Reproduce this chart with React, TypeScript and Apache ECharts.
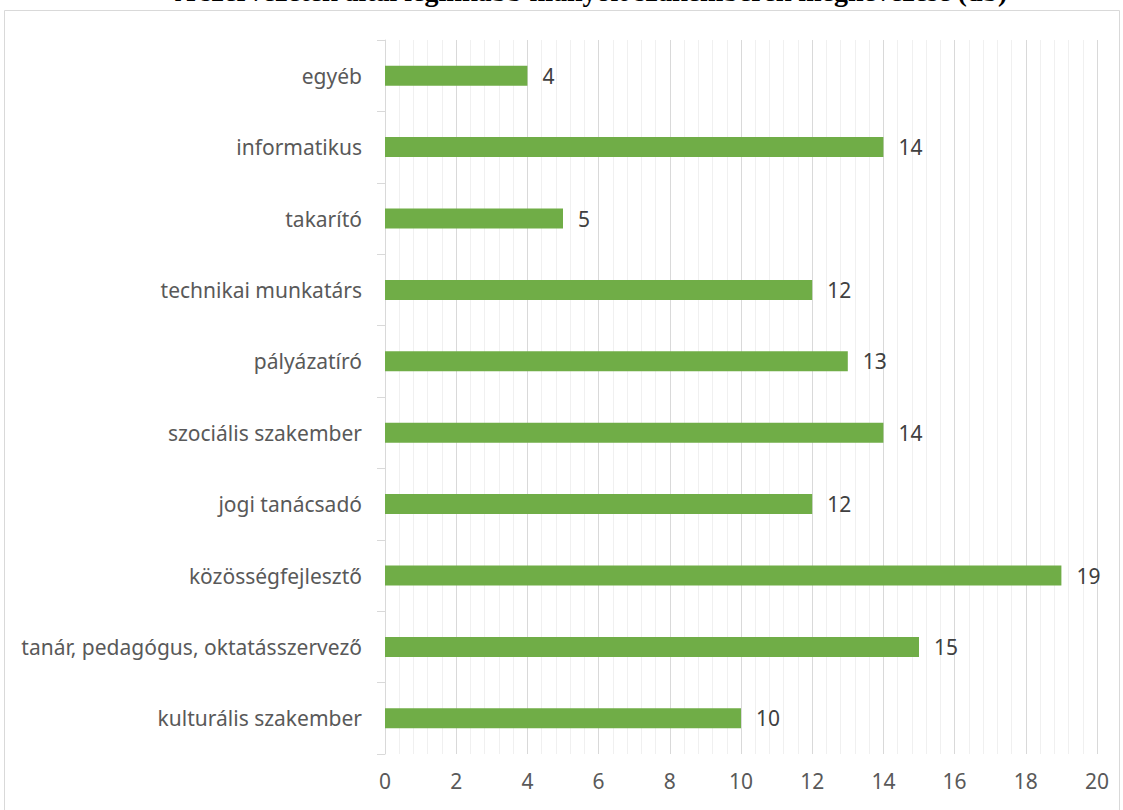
import React, { useEffect, useRef } from "react";
import * as echarts from "echarts";

const titleText = "A szervezetek által leginkább hiányolt szakemberek megnevezése (db)";
const categories = [
  "kulturális szakember",
  "tanár, pedagógus, oktatásszervező",
  "közösségfejlesztő",
  "jogi tanácsadó",
  "szociális szakember",
  "pályázatíró",
  "technikai munkatárs",
  "takarító",
  "informatikus",
  "egyéb",
];
const values = [10, 15, 19, 12, 14, 13, 12, 5, 14, 4];
const xMin = 0;
const xMax = 20;
const xInterval = 2;

export default function App() {
  const ref = useRef<HTMLDivElement>(null);
  useEffect(() => {
    document.body.style.margin = "0";
    if (!ref.current) return;
    const chart = echarts.init(ref.current, undefined, { renderer: "svg" });
    const font = "Noto Sans";
    chart.setOption({
      animation: false,
      backgroundColor: "#ffffff",
      textStyle: { fontFamily: font },
      graphic: [
        {
          type: "rect",
          shape: { x: 4.5, y: 10.5, width: 1115, height: 820 },
          style: { fill: "none", stroke: "#d9d9d9", lineWidth: 1 },
          z: -1,
        },
        {
          type: "text",
          left: 175,
          top: -23,
          style: {
            text: titleText,
            font: "bold 28px 'Liberation Serif', serif",
            fill: "#000000",
          },
        },
      ],
      grid: { left: 385, right: 26, top: 40, bottom: 56, containLabel: false },
      xAxis: {
        type: "value",
        min: xMin,
        max: xMax,
        interval: xInterval,
        axisLine: { show: false },
        axisTick: { show: false },
        axisLabel: {
          color: "#595959",
          fontSize: 21,
          fontFamily: font,
          margin: 16,
        },
        splitLine: { show: true, lineStyle: { color: "#d9d9d9", width: 1 } },
        minorTick: { show: false, splitNumber: 5 },
        minorSplitLine: { show: true, lineStyle: { color: "#f0f0f0", width: 1 } },
      },
      yAxis: {
        type: "category",
        data: categories,
        axisLine: { show: true, lineStyle: { color: "#d9d9d9", width: 1 } },
        axisTick: { show: true, length: 8, lineStyle: { color: "#d9d9d9" } },
        axisLabel: {
          color: "#595959",
          fontSize: 21,
          fontFamily: font,
          margin: 23,
        },
        splitLine: { show: false },
      },
      series: [
        {
          type: "bar",
          data: values,
          barWidth: 20,
          itemStyle: { color: "#70ad47" },
          label: {
            show: true,
            position: "right",
            distance: 15,
            color: "#404040",
            fontSize: 21,
            fontFamily: font,
          },
        },
      ],
    });
    return () => chart.dispose();
  }, []);
  return <div ref={ref} style={{ width: 1123, height: 810 }} />;
}
